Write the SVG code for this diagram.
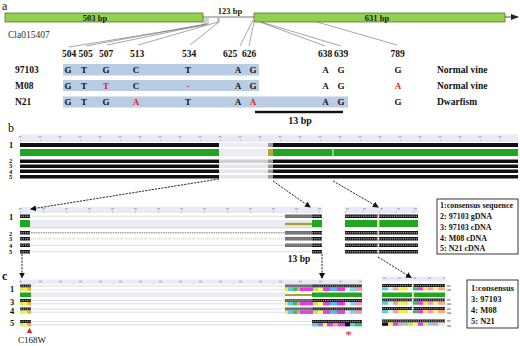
<svg xmlns="http://www.w3.org/2000/svg" width="520" height="346" viewBox="0 0 520 346">
<style>
text{font-family:"Liberation Serif","Times New Roman",serif;fill:#111;}
.plab{font-size:12px;}
.bp{font-size:8.5px;font-weight:bold;text-anchor:middle;fill:#1a2400;}
.pos{font-size:9.5px;font-weight:bold;text-anchor:middle;}
.nt{font-size:9px;font-weight:bold;text-anchor:middle;}
.red{fill:#e0201c;}
.rowlab{font-size:9.5px;font-weight:bold;}
.num{font-size:8.5px;font-weight:bold;}
.num2{font-size:6.5px;font-weight:bold;}
.exon{fill:#92d050;stroke:#3f6b1a;stroke-width:0.7;}
.lead{stroke:#6a6a6a;stroke-width:0.6;fill:none;}
.hl{fill:#b8cce4;}
.ruler{fill:#eaeaf6;}
.rnum{stroke:#b4b4c4;stroke-width:1.4;}
.rtick{stroke:#9898a8;stroke-width:1.6;}
.blk{fill:#111;}
.grn{fill:#1fa81f;}
.rowline{stroke:#c4c4cc;stroke-width:0.6;}
.seqd{stroke:#8c8c8c;stroke-width:1.3;stroke-dasharray:1.3 0.9;}
.arr{stroke:#111;stroke-width:0.9;stroke-dasharray:2.2 1.1;fill:none;marker-end:url(#ah);}
.leg{fill:#fff;stroke:#222;stroke-width:0.9;}
.legt{font-size:8px;font-weight:bold;}
.legt2{font-size:8.5px;font-weight:bold;}
.small{font-size:4.6px;fill:#333;}
</style>
<defs>
<marker id="ah" markerWidth="6" markerHeight="6" refX="5" refY="3" orient="auto" markerUnits="userSpaceOnUse"><path d="M0,0 L6,3 L0,6 z" fill="#111"/></marker>
<marker id="ah2" markerWidth="8" markerHeight="6" refX="7" refY="3" orient="auto" markerUnits="userSpaceOnUse"><path d="M0,0 L8,3 L0,6 z" fill="#222"/></marker>
<g id="ntM">
 <rect x="285" width="27" height="3" fill="#5c5c5c"/>
 <rect x="312" width="50" height="3" fill="#111"/>
 <line x1="285.5" y1="1.5" x2="362" y2="1.5" class="seqd"/>
</g>
<g id="aaM">
 <rect x="285" width="3" height="3.4" fill="#f9e04b"/>
 <rect x="288" width="5" height="3.4" fill="#63c8d8"/>
 <rect x="293" width="4" height="3.4" fill="#33c25a"/>
 <rect x="297" width="3" height="3.4" fill="#f5a060"/>
 <rect x="300" width="13" height="3.4" fill="#e040e0"/>
 <rect x="313" width="5" height="3.4" fill="#c6e84a"/>
 <rect x="318" width="5" height="3.4" fill="#f6f27a"/>
 <rect x="323" width="7" height="3.4" fill="#e040e0"/>
 <rect x="330" width="7" height="3.4" fill="#5fb4f0"/>
 <rect x="337" width="8" height="3.4" fill="#e040e0"/>
 <rect x="345" width="5" height="3.4" fill="#f3e6f0"/>
 <rect x="350" width="5" height="3.4" fill="#7fd8e8"/>
 <rect x="355" width="7" height="3.4" fill="#f59bb0"/>
</g>
<g id="ntR">
 <rect x="382" width="63" height="3" fill="#111"/>
 <line x1="382.5" y1="1.5" x2="445" y2="1.5" class="seqd"/>
 <rect x="412" width="1.4" height="3" fill="#f4f4f4"/>
</g>
<g id="aaR">
 <rect x="382" width="6" height="3.2" fill="#63c8d8"/>
 <rect x="388" width="5" height="3.2" fill="#d8f0f4"/>
 <rect x="393" width="5" height="3.2" fill="#f59bb0"/>
 <rect x="398" width="5" height="3.2" fill="#f6f04a"/>
 <rect x="403" width="5" height="3.2" fill="#f6e84a"/>
 <rect x="408" width="5" height="3.2" fill="#f0f0f0"/>
 <rect x="413" width="5" height="3.2" fill="#33c25a"/>
 <rect x="418" width="5" height="3.2" fill="#e040e0"/>
 <rect x="423" width="5" height="3.2" fill="#f9e04b"/>
 <rect x="428" width="5" height="3.2" fill="#f59bb0"/>
 <rect x="433" width="5" height="3.2" fill="#f6f27a"/>
 <rect x="438" width="7" height="3.2" fill="#f7a98c"/>
</g>
<g id="ntL">
 <rect x="20" width="11" height="3" fill="#111"/>
 <line x1="20.5" y1="1.5" x2="31" y2="1.5" class="seqd"/>
</g>
<g id="aaL">
 <rect x="20" width="3.7" height="3.3" fill="#c8f060"/>
 <rect x="23.7" width="3.6" height="3.3" fill="#f5f048"/>
 <rect x="27.3" width="3.7" height="3.3" fill="#f0b040"/>
</g>
<g id="ntBL">
 <rect x="20" width="10" height="3.5" fill="#111"/>
 <line x1="20.5" y1="1.75" x2="30" y2="1.75" class="seqd"/>
</g>
<g id="ntBM">
 <rect x="285" width="27" height="3.5" fill="#6a6a6a"/>
 <rect x="312" width="10" height="3.5" fill="#111"/>
 <line x1="285.5" y1="1.75" x2="322" y2="1.75" class="seqd"/>
</g>
<g id="ntBR">
 <rect x="345" width="73" height="3.5" fill="#111"/>
 <line x1="345.5" y1="1.75" x2="418" y2="1.75" class="seqd"/>
 <rect x="377.5" width="1.4" height="3.5" fill="#f0f0f0"/>
</g>
</defs>

<rect width="520" height="346" fill="#fff"/>

<!-- ================= PANEL A ================= -->
<g id="panel-a-label"><text x="2" y="10" class="plab">a</text></g>
<g id="gene">
 <rect x="5" y="13" width="198" height="9" class="exon"/>
 <text x="95" y="20.5" class="bp">503 bp</text>
 <line x1="203" y1="17" x2="254" y2="17" stroke="#555" stroke-width="0.8"/>
 <text x="230" y="14" class="bp">123 bp</text>
 <rect x="254" y="13" width="251" height="9" class="exon"/>
 <text x="377" y="20.5" class="bp">631 bp</text>
 <line x1="505" y1="17" x2="518" y2="17" stroke="#222" stroke-width="0.8" marker-end="url(#ah2)"/>
 <text x="8" y="38" style="font-size:9.5px;fill:#333">Cla015407</text>
</g>
<g id="leaders">
 <path class="lead" d="M204 18V25L69 47M206 18V24L86 46M208 18V24L107 45M218 18V22L138 45M219 18V22L190 45M253 20L240 46M254 22L249 46M260 22L325 46M261 22L341 46M317 22L397 45"/>
</g>
<g id="positions">
 <text x="69" y="57" class="pos">504</text>
 <text x="85.5" y="57" class="pos">505</text>
 <text x="106" y="57" class="pos">507</text>
 <text x="137" y="57" class="pos">513</text>
 <text x="189" y="57" class="pos">534</text>
 <text x="230" y="57" class="pos">625</text>
 <text x="249" y="57" class="pos">626</text>
 <text x="325" y="57" class="pos">638</text>
 <text x="341" y="57" class="pos">639</text>
 <text x="397.5" y="57" class="pos">789</text>
</g>
<g id="row-97103">
 <rect x="63" y="64" width="196" height="11.5" class="hl"/>
 <text x="15" y="73" class="rowlab">97103</text>
 <text x="68" y="73" class="nt">G</text><text x="84" y="73" class="nt">T</text><text x="106" y="73" class="nt">G</text><text x="136" y="73" class="nt">C</text><text x="188" y="73" class="nt">T</text><text x="238" y="73" class="nt">A</text><text x="253" y="73" class="nt">G</text><text x="325.5" y="73" class="nt">A</text><text x="341" y="73" class="nt">G</text><text x="398" y="73" class="nt">G</text>
 <text x="437" y="73" class="rowlab">Normal vine</text>
</g>
<g id="row-M08">
 <rect x="63" y="80" width="196" height="11" class="hl"/>
 <text x="15" y="89" class="rowlab">M08</text>
 <text x="68" y="89" class="nt">G</text><text x="84" y="89" class="nt">T</text><text x="106" y="89" class="nt red">T</text><text x="136" y="89" class="nt">C</text><text x="188" y="89" class="nt red">-</text><text x="238" y="89" class="nt">A</text><text x="253" y="89" class="nt">G</text><text x="325.5" y="89" class="nt">A</text><text x="341" y="89" class="nt">G</text><text x="398" y="89" class="nt red">A</text>
 <text x="437" y="89" class="rowlab">Normal vine</text>
</g>
<g id="row-N21">
 <rect x="63" y="96.5" width="285" height="11" class="hl"/>
 <text x="15" y="105" class="rowlab">N21</text>
 <text x="68" y="105" class="nt">G</text><text x="84" y="105" class="nt">T</text><text x="106" y="105" class="nt">G</text><text x="136" y="105" class="nt red">A</text><text x="188" y="105" class="nt">T</text><text x="238" y="105" class="nt">A</text><text x="253" y="105" class="nt red">A</text><text x="325.5" y="105" class="nt">A</text><text x="341" y="105" class="nt">G</text><text x="398" y="105" class="nt">G</text>
 <text x="437" y="105" class="rowlab">Dwarfism</text>
</g>
<g id="scale-13bp">
 <rect x="255" y="110.8" width="88" height="2.4" fill="#111"/>
 <text x="300" y="123.5" style="font-size:10px;font-weight:bold;text-anchor:middle">13 bp</text>
</g>

<!-- ================= PANEL B ================= -->
<g id="panel-b-label"><text x="8" y="132" class="plab">b</text></g>
<g id="b-overview">
 <rect x="20" y="134.5" width="498" height="7.5" class="ruler"/>
 <line x1="18.5" y1="136.8" x2="518" y2="136.8" class="rnum" stroke-dasharray="3 17"/>
 <line x1="20" y1="140.3" x2="518" y2="140.3" class="rtick" stroke-dasharray="0.6 19.4"/>
 <rect x="219" y="143" width="54" height="4" fill="#ececf4"/>
 <rect x="219" y="149" width="54" height="7" fill="#ececf4"/>
 <rect x="219" y="159.5" width="50" height="3.5" fill="#cfcfd4"/>
 <rect x="219" y="164.5" width="50" height="3.5" fill="#e6e6ea"/>
 <rect x="219" y="169.5" width="50" height="3.5" fill="#e6e6ea"/>
 <rect x="219" y="175" width="50" height="3.5" fill="#e6e6ea"/>
 <rect x="20" y="143" width="199" height="4" class="blk"/>
 <rect x="273" y="143" width="245" height="4" class="blk"/>
 <rect x="268" y="143" width="5" height="4" fill="#999"/>
 <rect x="20" y="149" width="199" height="7" class="grn"/>
 <rect x="273" y="149" width="245" height="7" class="grn"/>
 <rect x="268" y="149" width="5" height="7" fill="#b5a63a"/>
 <rect x="332.5" y="149" width="1" height="7" fill="#e8f4e8"/>
 <rect x="20" y="159.5" width="199" height="3.5" class="blk"/><rect x="273" y="159.5" width="245" height="3.5" class="blk"/><rect x="268" y="159.5" width="5" height="3.5" fill="#999"/>
 <rect x="20" y="164.5" width="199" height="3.5" class="blk"/><rect x="273" y="164.5" width="245" height="3.5" class="blk"/><rect x="268" y="164.5" width="5" height="3.5" fill="#999"/>
 <rect x="20" y="169.5" width="199" height="3.5" class="blk"/><rect x="273" y="169.5" width="245" height="3.5" class="blk"/><rect x="268" y="169.5" width="5" height="3.5" fill="#999"/>
 <rect x="20" y="175" width="199" height="3.5" class="blk"/><rect x="273" y="175" width="245" height="3.5" class="blk"/><rect x="268" y="175" width="5" height="3.5" fill="#999"/>
 <text x="9" y="147.5" class="num">1</text>
 <text x="9" y="162.5" class="num2">2</text>
 <text x="9" y="168" class="num2">3</text>
 <text x="9" y="173.5" class="num2">4</text>
 <text x="9" y="179" class="num2">5</text>
</g>
<g id="b-detail-left">
 <rect x="20" y="207" width="302" height="6" class="ruler"/>
 <line x1="19" y1="208.8" x2="322" y2="208.8" class="rnum" stroke-dasharray="3 20"/>
 <line x1="20" y1="212" x2="322" y2="212" class="rtick" stroke-dasharray="0.6 22.4"/>
 <use href="#ntBL" transform="translate(0,214.5)"/>
 <line x1="30" y1="216.2" x2="285" y2="216.2" class="rowline"/>
 <use href="#ntBM" transform="translate(0,214.5)"/>
 <rect x="30" y="220" width="282" height="7" fill="#ebebf4"/>
 <rect x="20" y="220" width="10" height="7" class="grn"/>
 <rect x="285" y="222.8" width="27" height="2.4" fill="#aaa032"/>
 <rect x="312" y="220" width="10" height="7" class="grn"/>
 <line x1="20" y1="227.7" x2="322" y2="227.7" stroke="#b8b8c2" stroke-width="0.7"/>
 <use href="#ntBL" transform="translate(0,231)"/>
 <line x1="31" y1="232.7" x2="285" y2="232.7" stroke="#a8a8a8" stroke-width="1.6" stroke-dasharray="1.6 0.8"/>
 <use href="#ntBM" transform="translate(0,231)"/>
 <use href="#ntBL" transform="translate(0,237)"/>
 <line x1="30" y1="238.8" x2="285" y2="238.8" class="rowline"/>
 <use href="#ntBM" transform="translate(0,237)"/>
 <use href="#ntBL" transform="translate(0,243.5)"/>
 <line x1="30" y1="245.3" x2="285" y2="245.3" class="rowline"/>
 <use href="#ntBM" transform="translate(0,243.5)"/>
 <use href="#ntBL" transform="translate(0,250)"/>
 <line x1="30" y1="251.8" x2="312" y2="251.8" class="rowline"/>
 <rect x="312" y="250" width="10" height="3.5" fill="#111"/>
 <line x1="312.5" y1="251.75" x2="322" y2="251.75" class="seqd"/>
 <text x="9" y="220" class="num">1</text>
 <text x="9" y="235.5" class="num2">2</text>
 <text x="9" y="241" class="num2">3</text>
 <text x="9" y="247.5" class="num2">4</text>
 <text x="9" y="254" class="num2">5</text>
 <text x="299" y="262" style="font-size:9.5px;font-weight:bold;text-anchor:middle">13 bp</text>
</g>
<g id="b-detail-right">
 <rect x="345" y="207" width="73" height="6" class="ruler"/>
 <line x1="346" y1="208.8" x2="418" y2="208.8" class="rnum" stroke-dasharray="3 14"/>
 <line x1="345" y1="212" x2="418" y2="212" class="rtick" stroke-dasharray="0.6 16.4"/>
 <use href="#ntBR" transform="translate(0,214.5)"/>
 <rect x="345" y="220" width="73" height="7" class="grn"/>
 <rect x="377" y="220" width="2.4" height="7" fill="#f2f0c8"/>
 <use href="#ntBR" transform="translate(0,231)"/>
 <use href="#ntBR" transform="translate(0,237)"/>
 <use href="#ntBR" transform="translate(0,243.5)"/>
 <use href="#ntBR" transform="translate(0,250)"/>
</g>
<g id="b-legend">
 <rect x="437" y="199" width="81" height="55" class="leg"/>
 <text x="440" y="207.5" class="legt">1:consensus sequence</text>
 <text x="440" y="218.5" class="legt">2: 97103 gDNA</text>
 <text x="440" y="229.5" class="legt">3: 97103 cDNA</text>
 <text x="440" y="240.5" class="legt">4: M08 cDNA</text>
 <text x="440" y="251" class="legt">5: N21 cDNA</text>
</g>

<!-- ================= PANEL C ================= -->
<g id="panel-c-label"><text x="2" y="280" class="plab" style="font-weight:bold">c</text></g>
<g id="c-left-mid">
 <rect x="20" y="279.5" width="342" height="4.5" class="ruler"/>
 <line x1="19" y1="281.5" x2="362" y2="281.5" class="rnum" stroke-dasharray="3 17"/>
 <line x1="31" y1="286" x2="285" y2="286" class="rowline"/>
 <line x1="31" y1="289.8" x2="285" y2="289.8" class="rowline"/>
 <rect x="31" y="292.5" width="254" height="4.5" fill="#ebebf4"/>
 <line x1="31" y1="300.5" x2="285" y2="300.5" class="rowline"/>
 <line x1="31" y1="303.8" x2="285" y2="303.8" class="rowline"/>
 <line x1="31" y1="309" x2="285" y2="309" class="rowline"/>
 <line x1="31" y1="312.2" x2="285" y2="312.2" class="rowline"/>
 <line x1="31" y1="321.5" x2="312" y2="321.5" class="rowline"/>
 <line x1="31" y1="324.8" x2="312" y2="324.8" class="rowline"/>
 <use href="#ntL" transform="translate(0,284.5)"/>
 <use href="#aaL" transform="translate(0,287.6)"/>
 <rect x="20" y="292.5" width="11" height="4.5" class="grn"/>
 <use href="#ntL" transform="translate(0,299)"/>
 <use href="#aaL" transform="translate(0,302)"/>
 <use href="#ntL" transform="translate(0,307.5)"/>
 <use href="#aaL" transform="translate(0,310.5)"/>
 <use href="#ntL" transform="translate(0,320)"/>
 <use href="#aaL" transform="translate(0,323)"/>
 <use href="#ntM" transform="translate(0,284.5)"/>
 <use href="#aaM" transform="translate(0,287.6)"/>
 <rect x="285" y="294" width="27" height="2" fill="#aaa032"/>
 <rect x="312" y="292.5" width="50" height="4.5" class="grn"/>
 <use href="#ntM" transform="translate(0,299)"/>
 <use href="#aaM" transform="translate(0,302)"/>
 <use href="#ntM" transform="translate(0,307.5)"/>
 <use href="#aaM" transform="translate(0,310.5)"/>
 <rect x="312" y="320" width="50" height="3" fill="#111"/>
 <line x1="312.5" y1="321.5" x2="362" y2="321.5" class="seqd"/>
 <rect x="312" y="323" width="6" height="3.4" fill="#63c8d8"/>
 <rect x="318" y="323" width="5" height="3.4" fill="#9a70f0"/>
 <rect x="323" y="323" width="4" height="3.4" fill="#f6f04a"/>
 <rect x="327" y="323" width="6" height="3.4" fill="#e040e0"/>
 <rect x="333" y="323" width="5" height="3.4" fill="#f59bb0"/>
 <rect x="338" y="323" width="7" height="3.4" fill="#e040e0"/>
 <rect x="345" y="323" width="5" height="3.4" fill="#111"/>
 <rect x="350" y="323" width="5" height="3.4" fill="#63c8d8"/>
 <rect x="355" y="323" width="7" height="3.4" fill="#33c25a"/>
 <text x="10" y="291.5" class="num">1</text>
 <text x="10" y="304.5" class="num">3</text>
 <text x="10" y="313.5" class="num">4</text>
 <text x="10" y="326" class="num">5</text>
 <polygon points="26.8,333 32.2,333 29.5,327.8" fill="#e0201c"/>
 <text x="18" y="343" style="font-size:9px">C168W</text>
 <text x="348.5" y="339" class="red" style="font-size:13px;text-anchor:middle">*</text>
</g>
<g id="c-right">
 <rect x="382" y="276.5" width="63" height="5" class="ruler"/>
 <line x1="383" y1="278.3" x2="445" y2="278.3" class="rnum" stroke-dasharray="3 12"/>
 <use href="#ntR" transform="translate(0,284)"/>
 <use href="#aaR" transform="translate(0,287.2)"/>
 <rect x="382" y="292.5" width="63" height="4.5" class="grn"/>
 <rect x="412" y="292.5" width="1.8" height="4.5" fill="#f4f4f4"/>
 <use href="#ntR" transform="translate(0,298.5)"/>
 <use href="#aaR" transform="translate(0,301.6)"/>
 <use href="#ntR" transform="translate(0,307)"/>
 <use href="#aaR" transform="translate(0,310.1)"/>
 <rect x="382" y="319.5" width="63" height="3" fill="#111"/>
 <line x1="382.5" y1="321" x2="445" y2="321" class="seqd"/>
 <rect x="382" y="322.6" width="6" height="3.2" fill="#111"/>
 <rect x="388" y="322.6" width="5" height="3.2" fill="#f6f04a"/>
 <rect x="393" y="322.6" width="5" height="3.2" fill="#e040e0"/>
 <rect x="398" y="322.6" width="5" height="3.2" fill="#f59bb0"/>
 <rect x="403" y="322.6" width="5" height="3.2" fill="#7fd8e8"/>
 <rect x="408" y="322.6" width="5" height="3.2" fill="#c6e84a"/>
 <rect x="413" y="322.6" width="5" height="3.2" fill="#f6f27a"/>
 <rect x="418" y="322.6" width="5" height="3.2" fill="#e040e0"/>
 <rect x="423" y="322.6" width="5" height="3.2" fill="#f9e04b"/>
 <rect x="428" y="322.6" width="5" height="3.2" fill="#7fd8e8"/>
 <rect x="433" y="322.6" width="5" height="3.2" fill="#f59bb0"/>
 <rect x="438" y="322.6" width="7" height="3.2" fill="#e4e4e4"/>
 <text x="447" y="286.5" class="small">nt</text><text x="447" y="291" class="small">aa</text>
 <text x="447" y="300.5" class="small">nt</text><text x="447" y="304.8" class="small">aa</text>
 <text x="447" y="310" class="small">nt</text><text x="447" y="314.3" class="small">aa</text>
 <text x="447" y="322" class="small">nt</text><text x="447" y="326.5" class="small">aa</text>
</g>
<g id="c-legend">
 <rect x="467" y="280" width="51" height="48" class="leg"/>
 <text x="471" y="291" class="legt2">1:consensus</text>
 <text x="471" y="302" class="legt2">3: 97103</text>
 <text x="471" y="313" class="legt2">4: M08</text>
 <text x="471" y="324" class="legt2">5: N21</text>
</g>

<!-- ================= CONNECTORS ================= -->
<g id="connectors">
 <line x1="219" y1="179" x2="31" y2="209" class="arr"/>
 <line x1="273" y1="181" x2="310" y2="207" class="arr"/>
 <line x1="333" y1="181" x2="378" y2="207" class="arr"/>
 <line x1="22" y1="254" x2="22" y2="277.5" class="arr"/>
 <line x1="322" y1="254" x2="322" y2="278" class="arr"/>
 <line x1="378" y1="257" x2="411" y2="277.5" class="arr"/>
</g>
</svg>
